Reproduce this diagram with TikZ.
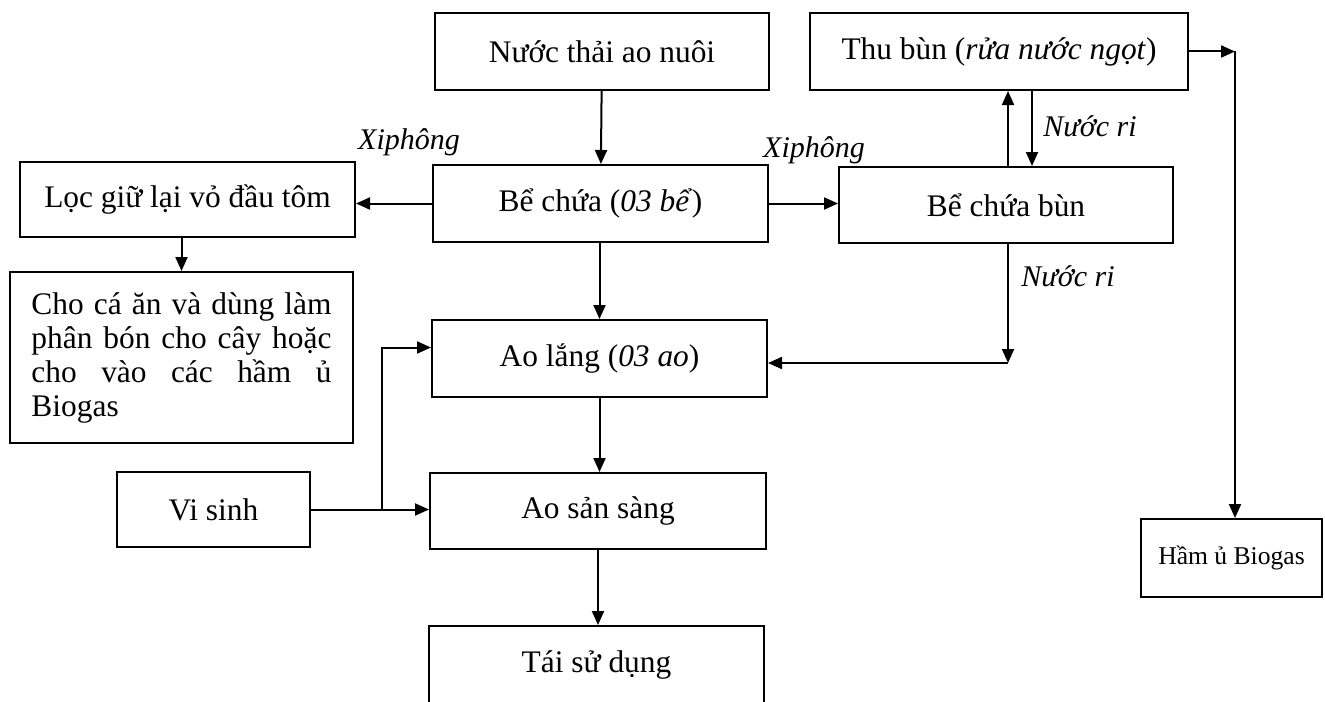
\documentclass[tikz,border=0pt]{standalone}
\usepackage{fontspec}
\setmainfont{Liberation Serif}
\usetikzlibrary{arrows.meta}
\begin{document}
\begin{tikzpicture}[x=0.5pt,y=-0.5pt,
	box/.style={draw,line width=1pt,inner sep=0pt,font=\fontsize{15.7}{17}\selectfont},
	arr/.style={line width=1pt,-{Triangle[length=7pt,width=6pt]}},
	lab/.style={font=\fontsize{15}{17}\selectfont\itshape}]
\useasboundingbox (0,0) rectangle (1325,701);
% cot giua
\node[box,minimum width=167pt,minimum height=38.5pt] (nuoc) at (602,51.5) {Nước thải ao nuôi};
\node[box,minimum width=167.5pt,minimum height=38.5pt] (bechua) at (600.5,203.5) {Bể chứa (\textit{03 bể})};
\node[box,minimum width=167.5pt,minimum height=38.5pt] (aolang) at (599.5,358.5) {Ao lắng (\textit{03 ao})};
\node[box,minimum width=168pt,minimum height=38pt] (aosan) at (598,511) {Ao sản sàng};
\node[box,minimum width=167.5pt,minimum height=38.5pt] (tai) at (596.5,664.5) {Tái sử dụng};
% ben trai
\node[box,minimum width=167.5pt,minimum height=37.5pt] (loc) at (187.5,199.5) {Lọc giữ lại vỏ đầu tôm};
\node[box,minimum width=171.5pt,minimum height=85.5pt,text width=150pt,align=justify] (choca) at (181.5,357.5)
	{Cho cá ăn và dùng làm\linebreak phân bón cho cây hoặc\linebreak cho vào các hầm ủ\linebreak Biogas};
\node[box,minimum width=96.5pt,minimum height=37.5pt] (visinh) at (213.5,509.5) {Vi sinh};
% ben phai
\node[box,minimum width=189pt,minimum height=38.5pt] (thubun) at (999,51.5) {Thu bùn (\textit{rửa nước ngọt})};
\node[box,minimum width=167pt,minimum height=38pt] (bebun) at (1006,205) {Bể chứa bùn};
\node[box,minimum width=90.5pt,minimum height=39pt,font=\fontsize{12.8}{14}\selectfont] (ham) at (1231.5,558) {Hầm ủ Biogas};
\coordinate (upx) at (1008,0);
\coordinate (dnx) at (1032,0);
\coordinate (rc) at (1008,363);
\coordinate (hc) at (1235,51.5);
\coordinate (vb) at (382,0);
% mui ten
\draw[arr] (nuoc) -- (bechua);
\draw[arr] (bechua.west) -- (bechua.west -| loc.east);
\draw[arr] (bechua.east) -- (bechua.east -| bebun.west);
\draw[arr] (loc.south -| choca.north) -- (choca.north);
\draw[arr] (bechua.south -| aolang.north) -- (aolang.north);
\draw[arr] (aolang.south) -- (aolang.south |- aosan.north);
\draw[arr] (aosan.south) -- (aosan.south |- tai.north);
\draw[arr] (visinh.east) -- (visinh.east -| aosan.west);
\draw[arr] (visinh.east -| vb) |- ([yshift=5.5pt]aolang.west);
\draw[arr] (bebun.north -| upx) -- (thubun.south -| upx);
\draw[arr] (thubun.south -| dnx) -- (bebun.north -| dnx);
\draw[arr] (bebun.south -| rc) -- (rc);
\draw[arr] (rc) -- (rc -| aolang.east);
\draw[arr] (thubun.east) -- (hc);
\draw[arr] (hc) -- (hc |- ham.north);
% nhan
\node[lab] (x1) at (409,142) {Xiphông};
\node[lab] (x2) at (814,150) {Xiphông};
\node[lab] (nr1) at (1090,126) {Nước ri};
\node[lab] (nr2) at (1068,276) {Nước ri};
\end{tikzpicture}
\end{document}
